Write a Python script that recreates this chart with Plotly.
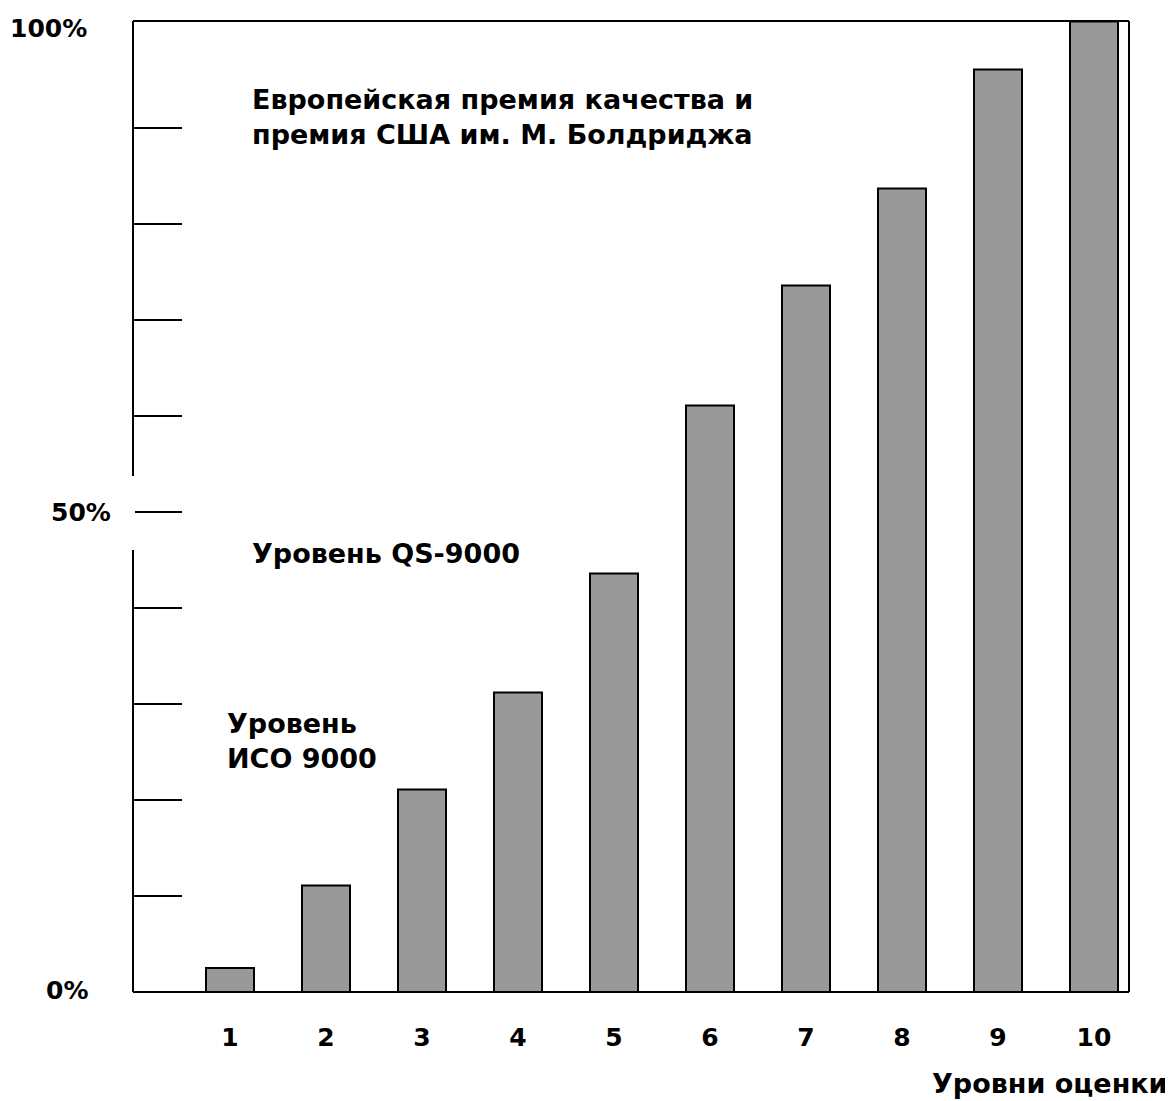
import plotly.graph_objects as go

levels = [1, 2, 3, 4, 5, 6, 7, 8, 9, 10]
values = [2.5, 11.1, 21.1, 31.2, 43.6, 61.1, 73.6, 83.7, 96.1, 101.1]
x_tick_labels = ["1", "2", "3", "4", "5", "6", "7", "8", "9", "10"]
y_minor_ticks = [10, 20, 30, 40, 60, 70, 80, 90]
y_labels = {0: "0%", 50: "50%", 100: "100%"}

OFF = 8  # page body margin
W, H = 1173 - OFF, 1101 - OFF
# frame in page pixels: left 133, right 1129, top 21, bottom 992
L, T = 133 - OFF, 21 - OFF
R = W - (1129 - OFF)
B = H - (992 - OFF)
PW = W - L - R
PH = H - T - B
YMAX = (992 - 21) / 9.6

def px_x(p):
    return (p - OFF - L) / PW

def px_y(p):
    return (H - B - (p - OFF)) / PH

FONT = "DejaVu Sans, Liberation Sans, Arial, sans-serif"
FS = 25
FS_TEXT = 27

fig = go.Figure()
fig.add_trace(go.Bar(
    x=levels, y=values, width=0.5,
    marker=dict(color="#999999", line=dict(color="black", width=2)),
    showlegend=False,
))

shapes = []
line = dict(color="black", width=2)
shapes.append(dict(type="line", xref="paper", yref="paper", x0=0, x1=1, y0=1, y1=1, line=line))
shapes.append(dict(type="line", xref="paper", yref="paper", x0=1, x1=1, y0=0, y1=1, line=line))
shapes.append(dict(type="line", xref="paper", yref="paper", x0=0, x1=1, y0=0, y1=0, line=line))
shapes.append(dict(type="line", xref="paper", yref="paper", x0=0, x1=0, y0=px_y(476), y1=1, line=line))
shapes.append(dict(type="line", xref="paper", yref="paper", x0=0, x1=0, y0=0, y1=px_y(550), line=line))
for v in y_minor_ticks:
    shapes.append(dict(type="line", xref="paper", yref="y", x0=0, x1=px_x(182), y0=v, y1=v,
                       line=dict(color="black", width=2)))
shapes.append(dict(type="line", xref="paper", yref="y", x0=px_x(135), x1=px_x(182), y0=50, y1=50,
                   line=dict(color="black", width=2)))

annotations = []
label_right = {0: 90, 50: 113, 100: 89}
label_y = {0: 990, 50: 512, 100: 28}
for v, t in y_labels.items():
    annotations.append(dict(text="<b>%s</b>" % t, xref="paper", yref="paper",
                            x=px_x(label_right[v]), y=px_y(label_y[v]),
                            xanchor="right", yanchor="middle", showarrow=False,
                            font=dict(family=FONT, size=FS, color="black")))

texts = [
    ("Европейская премия качества и<br>премия США им. М. Болдриджа", 250, 117),
    ("Уровень QS-9000", 250, 553),
    ("Уровень<br>ИСО 9000", 225, 741),
    ("Уровни оценки", 930, 1083),
]
for t, xp, yp in texts:
    annotations.append(dict(text="<b>%s</b>" % t, xref="paper", yref="paper",
                            x=px_x(xp), y=px_y(yp), xanchor="left", yanchor="middle",
                            align="left", showarrow=False,
                            font=dict(family=FONT, size=FS_TEXT, color="black")))

fig.update_layout(
    width=W, height=H,
    margin=dict(l=L, r=R, t=T, b=B, pad=0),
    paper_bgcolor="white", plot_bgcolor="white",
    shapes=shapes, annotations=annotations,
    xaxis=dict(range=[1 - (230 - 133) / 96, 10 + (1129 - 1094) / 96],
               tickvals=levels, ticktext=["<b>%s</b>" % s for s in x_tick_labels],
               showgrid=False, zeroline=False, showline=False, ticks="",
               ticklabelstandoff=28,
               tickfont=dict(family=FONT, size=FS, color="black")),
    yaxis=dict(range=[0, YMAX], showgrid=False, zeroline=False, showline=False,
               showticklabels=False, ticks=""),
)

fig.write_html("out.html")
